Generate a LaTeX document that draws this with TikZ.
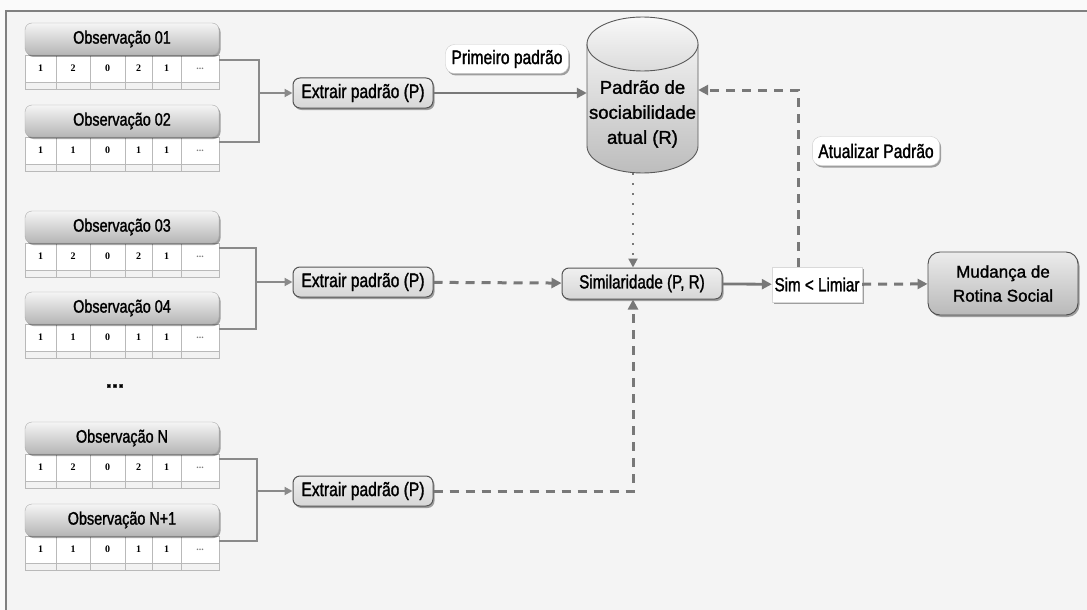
\documentclass[tikz,border=0pt]{standalone}
\usepackage{fontspec}
\setmainfont{Liberation Sans}[FakeBold=1.2]
\newfontfamily\narrowsans[FakeStretch=0.8, FakeBold=1.4]{Liberation Sans}
\newfontfamily\widesans[FakeBold=1.4]{Liberation Sans}
\newfontfamily\cellserif{Liberation Serif}
\usetikzlibrary{shadows,arrows.meta}

\definecolor{paper}{HTML}{F4F4F4}
\definecolor{outer}{HTML}{FAFAFA}
\definecolor{framegray}{HTML}{808080}
\definecolor{wire}{HTML}{8A8A8A}
\definecolor{flow}{HTML}{787878}
\definecolor{boxline}{HTML}{555555}

\newcommand{\celldots}{\textcolor{gray}{...}}

\tikzset{
  x=1pt, y=-1pt,
  softshadow/.style={drop shadow={shadow xshift=1.5pt, shadow yshift=-2pt, opacity=0.35, fill=black}},
  obshead/.style={draw=gray!65, rounded corners=7pt, top color=gray!8, bottom color=gray!58,
    minimum width=194pt, minimum height=32pt, inner sep=0pt, softshadow,
    font=\narrowsans\fontsize{18}{20}\selectfont},
  cellline/.style={draw=gray!55, line width=0.7pt},
  cellnum/.style={font=\cellserif\bfseries\fontsize{10}{10}\selectfont, inner sep=0pt},
  stepbox/.style={draw=boxline, line width=1pt, rounded corners=7pt, top color=gray!12, bottom color=gray!32,
    minimum height=30pt, inner sep=2pt, softshadow, font=\narrowsans\fontsize{19.5}{21}\selectfont},
  tagbox/.style={draw=gray!40, fill=white, rounded corners=9pt, inner xsep=6pt, minimum height=29pt,
    softshadow, font=\narrowsans\fontsize{19.5}{21}\selectfont},
  wireline/.style={draw=wire, line width=2pt},
  smallarrow/.style={wireline, -{Triangle[length=8pt,width=8pt]}},
  solidarrow/.style={draw=flow, line width=2.8pt, -{Triangle[length=10pt,width=10pt]}},
  dasharrow/.style={draw=flow, line width=3pt, dash pattern=on 9pt off 7pt, -{Triangle[length=10pt,width=10pt]}},
  dotarrow/.style={draw=flow, line width=2pt, dash pattern=on 2pt off 8pt, -{Triangle[length=9pt,width=9pt]}},
}

% one observation: rounded title bar over a row of values and a thin empty row
\newcommand{\obsblock}[4]{%
  \foreach \xa/\xb/\v [count=\i] in {25/56/1, 56/90/#4, 90/125/0, 125/152/#4, 152/181/1, 181/219/\celldots}{
    \draw[cellline, fill=white] (\xa,#2+32) rectangle (\xb,#2+59);
    \draw[cellline, fill=gray!10] (\xa,#2+59) rectangle (\xb,#2+66);
    \node[cellnum] (#1-c\i) at ({(\xa+\xb)/2},#2+45.5) {\v};
  }
  \node[obshead] (#1) at (122,#2+16) {#3};
  \coordinate (#1-out) at (219,#2+37);
}

\begin{document}
\begin{tikzpicture}
  % canvas and frame
  \fill[outer] (0,0) rectangle (1087,610);
  \useasboundingbox (0,0) rectangle (1087,610);
  \fill[paper] (6,11) rectangle (1087,610);
  \draw[framegray, line width=2.2pt] (6,610) -- (6,11) -- (1087,11);

  % observations
  \obsblock{o1}{23}{Observação 01}{2}
  \obsblock{o2}{105}{Observação 02}{1}
  \obsblock{o3}{211}{Observação 03}{2}
  \obsblock{o4}{292}{Observação 04}{1}
  \obsblock{oN}{422}{Observação N}{2}
  \obsblock{oM}{504}{Observação N+1}{1}
  \node[font=\bfseries\fontsize{22}{22}\selectfont, inner sep=0pt] (dots) at (115,386) {...};

  % pattern extraction steps
  \node[stepbox, minimum width=140pt] (e1) at (363,93) {Extrair padrão (P)};
  \node[stepbox, minimum width=140pt] (e2) at (363,282) {Extrair padrão (P)};
  \node[stepbox, minimum width=140pt] (e3) at (363,491) {Extrair padrão (P)};

  \coordinate (j1) at (259,93);
  \coordinate (j2) at (256,282);
  \coordinate (j3) at (257,491);
  \draw[wireline] (o1-out) -| (j1) |- (o2-out);
  \draw[wireline] (o3-out) -| (j2) |- (o4-out);
  \draw[wireline] (oN-out) -| (j3) |- (oM-out);
  \draw[smallarrow] (j1) -- (e1);
  \draw[smallarrow] (j2) -- (e2);
  \draw[smallarrow] (j3) -- (e3);

  % stored sociability pattern (cylinder)
  \path[top color=gray!12, bottom color=gray!52]
    (587,44) -- (587,146) arc[start angle=180, end angle=360, x radius=55.5pt, y radius=27pt]
    -- (698,44) -- cycle;
  \draw[gray!70!black, line width=0.9pt]
    (587,44) -- (587,146) arc[start angle=180, end angle=360, x radius=55.5pt, y radius=27pt] -- (698,44);
  \draw[gray!70!black, line width=0.9pt, top color=gray!5, bottom color=gray!28]
    (642.5,44) ellipse[x radius=55.5pt, y radius=27pt];
  \node[minimum width=111pt, minimum height=156pt, inner sep=0pt] (db) at (642.5,95) {};
  \node[align=center, font=\widesans\fontsize{18.5}{25}\selectfont, inner sep=0pt] (dbtext) at (642.5,114)
    {Padrão de\\sociabilidade\\atual (R)};

  % comparison and decision
  \node[stepbox, minimum width=160pt, minimum height=31pt, font=\narrowsans\fontsize{19}{21}\selectfont] (sim) at (642,283.5) {Similaridade (P, R)};
  \node[draw=gray!30, fill=white, minimum width=90pt, minimum height=35pt, inner sep=0pt, softshadow,
    font=\narrowsans\fontsize{19}{21}\selectfont] (lim) at (817,284.5) {Sim < Limiar};
  \node[draw=gray!60!black, line width=0.9pt, rounded corners=12pt, top color=gray!15, bottom color=gray!55,
    minimum width=150pt, minimum height=63pt, align=center, softshadow,
    font=\widesans\fontsize{17}{24}\selectfont] (chg) at (1003,283.5) {Mudança de\\Rotina Social};

  % labels on the flows
  \node[tagbox] (first) at (507,59) {Primeiro padrão};
  \node[tagbox] (upd) at (876,151) {Atualizar Padrão};

  % flows
  \coordinate (cx) at (633,0);
  \coordinate (uc) at (798,90);
  \draw[solidarrow] (e1) -- (e1 -| db.west);
  \draw[dasharrow] (e2) -- (sim);
  \draw[dasharrow] (e3) -| (sim.south -| cx);
  \draw[dotarrow] (db.south -| cx) -- (sim.north -| cx);
  \draw[solidarrow] (sim) -- (lim);
  \draw[dasharrow] (lim) -- (chg);
  \draw[dasharrow] (lim.north -| uc) -- (uc) -- (uc -| db.east);
\end{tikzpicture}
\end{document}
